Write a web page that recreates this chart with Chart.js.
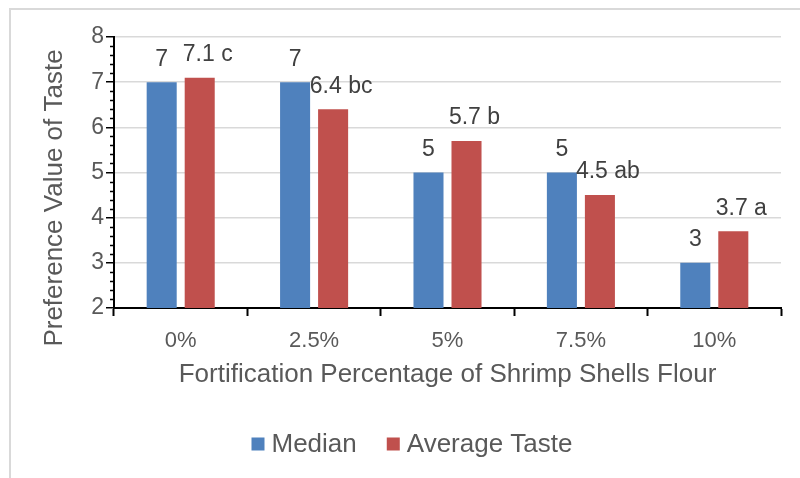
<!DOCTYPE html>
<html>
<head>
<meta charset="utf-8">
<script src="https://cdn.jsdelivr.net/npm/chart.js@4/dist/chart.umd.min.js"></script>
<style>
    html, body { margin: 0; padding: 0; background: #fff; }
    #wrap { width: 800px; height: 478px; position: relative; }
</style>
</head>
<body>
<div id="wrap"><canvas id="chart"></canvas></div>
<script>
const categories = ["0%", "2.5%", "5%", "7.5%", "10%"];
const medianValues = [7, 7, 5, 5, 3];
const averageValues = [7.1, 6.4, 5.7, 4.5, 3.7];
const averageLetters = ["c", "bc", "b", "ab", "a"];
const seriesNames = ["Median", "Average Taste"];
const yMin = 2;
const yMax = 8;
const yStep = 1;
const yMinorStep = 0.2;

const FONT = "'Liberation Sans', Arial, sans-serif";
const TEXT = "#595959";
const BLUE = "#4F81BD";
const RED = "#C0504D";

// light frame round the chart (only top and left visible in the picture)
const framePlugin = {
    id: "frame",
    beforeDraw(chart) {
        const ctx = chart.ctx;
        ctx.save();
        ctx.strokeStyle = "#d9d9d9";
        ctx.lineWidth = 2;
        ctx.beginPath();
        ctx.moveTo(10, chart.height);
        ctx.lineTo(10, 9);
        ctx.lineTo(chart.width, 9);
        ctx.stroke();
        ctx.restore();
    },
};

// small minor ticks on the y axis
const minorTicksPlugin = {
    id: "minorTicks",
    afterDraw(chart) {
        const y = chart.scales.y;
        const ctx = chart.ctx;
        const n = Math.round((yMax - yMin) / yMinorStep);
        ctx.save();
        ctx.strokeStyle = "#000";
        ctx.lineWidth = 1.5;
        for (let i = 0; i <= n; i++) {
            if (i % Math.round(yStep / yMinorStep) === 0) continue;
            const py = Math.round(y.getPixelForValue(yMin + i * yMinorStep)) + 0.5;
            ctx.beginPath();
            ctx.moveTo(y.right - 4, py);
            ctx.lineTo(y.right, py);
            ctx.stroke();
        }
        ctx.restore();
    },
};

// value labels above the bars
const valueLabelsPlugin = {
    id: "valueLabels",
    afterDatasetsDraw(chart) {
        const ctx = chart.ctx;
        ctx.save();
        ctx.font = "23px " + FONT;
        ctx.fillStyle = "#404040";
        ctx.textAlign = "center";
        ctx.textBaseline = "middle";
        chart.data.datasets.forEach((ds, di) => {
            const meta = chart.getDatasetMeta(di);
            meta.data.forEach((bar, i) => {
                let txt = String(ds.data[i]);
                let shift = 0;
                if (di === 1) {
                    txt = ds.data[i].toFixed(1) + " " + averageLetters[i];
                    shift = 8;
                }
                ctx.fillText(txt, bar.x + shift, bar.y - 23);
            });
        });
        ctx.restore();
    },
};

// y axis title and legend, placed like the original
const textPlugin = {
    id: "texts",
    afterDraw(chart) {
        const ctx = chart.ctx;
        ctx.save();
        ctx.fillStyle = TEXT;
        ctx.font = "26px " + FONT;
        ctx.textAlign = "center";
        ctx.textBaseline = "middle";
        ctx.translate(55, 198);
        ctx.rotate(-Math.PI / 2);
        ctx.fillText("Preference Value of Taste", 0, 0);
        ctx.restore();

        // legend
        ctx.save();
        ctx.font = "26px " + FONT;
        ctx.textBaseline = "middle";
        ctx.textAlign = "left";
        const box = 13;
        const gap = 7;
        const itemGap = 30;
        const cy = 444;
        const items = chart.data.datasets.map((d) => ({
            label: d.label,
            color: d.backgroundColor,
            w: box + gap + ctx.measureText(d.label).width,
        }));
        const total = items.reduce((s, it) => s + it.w, 0) + itemGap * (items.length - 1);
        let x = (chart.width - total) / 2 + 12;
        items.forEach((it) => {
            ctx.fillStyle = it.color;
            ctx.fillRect(x, cy - box / 2, box, box);
            ctx.fillStyle = TEXT;
            ctx.fillText(it.label, x + box + gap, cy + 1);
            x += it.w + itemGap;
        });
        ctx.restore();
    },
};

const ctx = document.getElementById("chart").getContext("2d");
const chart = new Chart(ctx, {
    type: "bar",
    data: {
        labels: categories,
        datasets: [
            {
                label: seriesNames[0],
                data: medianValues,
                backgroundColor: BLUE,
                borderWidth: 0,
                categoryPercentage: 0.57,
                barPercentage: 0.79,
            },
            {
                label: seriesNames[1],
                data: averageValues,
                backgroundColor: RED,
                borderWidth: 0,
                categoryPercentage: 0.57,
                barPercentage: 0.79,
            },
        ],
    },
    options: {
        responsive: true,
        maintainAspectRatio: false,
        animation: false,
        devicePixelRatio: 1,
        layout: { padding: { left: 0, right: 19, top: 37, bottom: 0 } },
        plugins: {
            legend: { display: false },
            tooltip: { enabled: false },
        },
        scales: {
            x: {
                offset: true,
                grid: {
                    offset: true,
                    drawOnChartArea: false,
                    drawTicks: true,
                    tickLength: 8,
                    tickColor: "#000",
                    tickWidth: 2,
                },
                border: { display: true, color: "#000", width: 2 },
                ticks: {
                    color: TEXT,
                    font: { family: FONT, size: 22 },
                    padding: 12,
                    maxRotation: 0,
                },
                title: {
                    display: true,
                    text: "Fortification Percentage of Shrimp Shells Flour",
                    color: TEXT,
                    font: { family: FONT, size: 26 },
                    padding: { top: 0, bottom: 88 },
                },
                afterFit(scale) {
                    scale.height = 170;
                },
            },
            y: {
                min: yMin,
                max: yMax,
                ticks: {
                    stepSize: yStep,
                    color: TEXT,
                    font: { family: FONT, size: 23 },
                    padding: 2,
                },
                grid: {
                    color: "#d9d9d9",
                    lineWidth: 1.5,
                    drawTicks: true,
                    tickLength: 8,
                    tickColor: "#000",
                    tickWidth: 1.5,
                },
                border: { display: true, color: "#000", width: 2 },
                afterFit(scale) {
                    scale.width = 114;
                },
            },
        },
    },
    plugins: [framePlugin, minorTicksPlugin, valueLabelsPlugin, textPlugin],
});
</script>
</body>
</html>
